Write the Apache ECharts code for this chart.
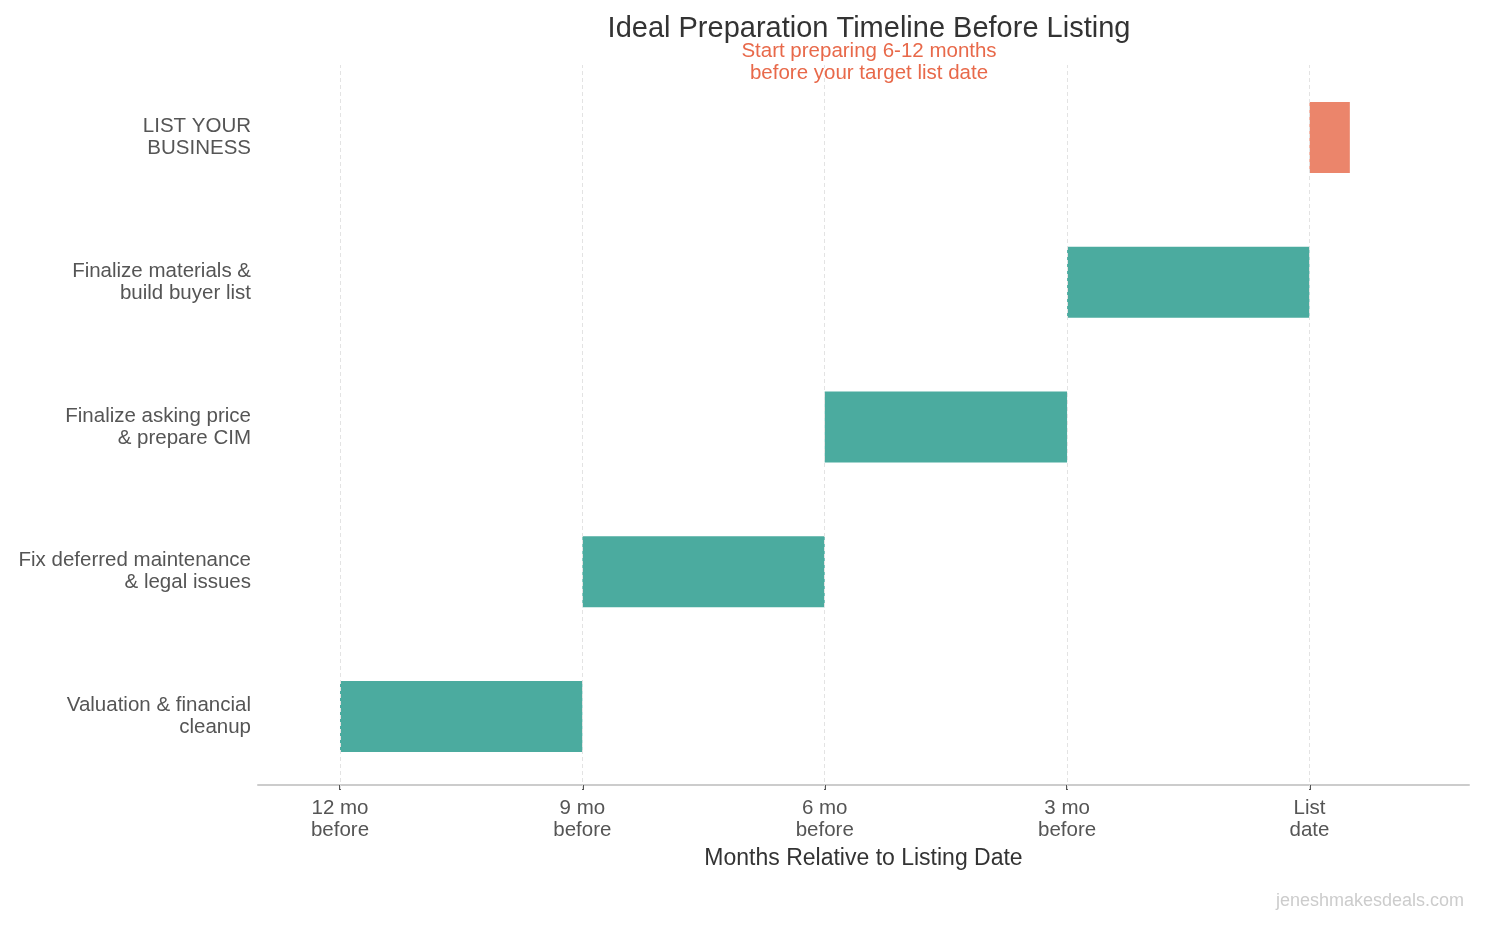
<!DOCTYPE html>
<html>
<head>
<meta charset="utf-8">
<script src="https://cdn.jsdelivr.net/npm/echarts@6/dist/echarts.min.js"></script>
<style>html,body{margin:0;padding:0;background:#fff;}#chart{width:1485px;height:925px;}</style>
</head>
<body>
<div id="chart"></div>
<script>
const categories = [
  "Valuation & financial\ncleanup",
  "Fix deferred maintenance\n& legal issues",
  "Finalize asking price\n& prepare CIM",
  "Finalize materials &\nbuild buyer list",
  "LIST YOUR\nBUSINESS"
];
const startMonths = [-12, -9, -6, -3, 0];
const endMonths = [-9, -6, -3, 0, 0.5];
const highlight = [false, false, false, false, true];
const tickValues = [-12, -9, -6, -3, 0];
const tickLabels = ["12 mo\nbefore", "9 mo\nbefore", "6 mo\nbefore", "3 mo\nbefore", "List\ndate"];

const FONT = '"Liberation Sans", Arial, Helvetica, sans-serif';
const chart = echarts.init(document.getElementById('chart'));

const data = categories.map((c, i) => [startMonths[i], endMonths[i], i, highlight[i] ? 1 : 0]);

chart.setOption({
  animation: false,
  backgroundColor: '#ffffff',
  title: {
    text: 'Ideal Preparation Timeline Before Listing',
    subtext: 'Start preparing 6-12 months\nbefore your target list date',
    left: 864, textAlign: 'center', top: 9, itemGap: -3,
    textStyle: {fontFamily: FONT, fontSize: 29, fontWeight: 'normal', color: '#333333'},
    subtextStyle: {fontFamily: FONT, fontSize: 20.5, color: '#E8694A', lineHeight: 22}
  },
  grid: {left: 258, right: 16, top: 65, bottom: 136, containLabel: false},
  xAxis: {
    type: 'value', min: -13.015, max: 1.975, offset: -4,
    name: 'Months Relative to Listing Date', nameLocation: 'middle', nameGap: 62,
    nameTextStyle: {fontFamily: FONT, fontSize: 23, color: '#333333'},
    axisLine: {show: true, lineStyle: {color: '#cccccc', width: 2}},
    axisTick: {show: true, customValues: tickValues, length: 5, lineStyle: {color: '#555555', width: 2}},
    axisLabel: {
      customValues: tickValues, margin: 12,
      fontFamily: FONT, fontSize: 20.5, color: '#555555', lineHeight: 22,
      formatter: v => { const i = tickValues.indexOf(v); return i >= 0 ? tickLabels[i] : ''; }
    },
    splitLine: {show: false}
  },
  yAxis: {
    type: 'category', data: categories,
    axisLine: {show: false}, axisTick: {show: false},
    axisLabel: {fontFamily: FONT, fontSize: 20.5, color: '#555555', lineHeight: 22, margin: 7, align: 'right', padding: [9, 0, 0, 0]}
  },
  graphic: [{
    type: 'text', right: 21, top: 892,
    style: {text: 'jeneshmakesdeals.com', font: '18px ' + FONT, fill: '#cccccc'}
  }],
  series: [{
    type: 'line',
    data: [],
    silent: true,
    markLine: {
      silent: true, symbol: 'none', label: {show: false},
      lineStyle: {color: '#e3e3e3', type: [4, 3], width: 1},
      data: tickValues.map(v => ({xAxis: v}))
    },
    z: 1
  }, {
    type: 'custom',
    data: data,
    encode: {x: [0, 1], y: 2},
    renderItem: function (params, api) {
      const s = api.coord([api.value(0), api.value(2)]);
      const e = api.coord([api.value(1), api.value(2)]);
      const h = api.size([0, 1])[1] * 0.49;
      return {
        type: 'rect',
        shape: {x: s[0], y: s[1] - h / 2, width: e[0] - s[0], height: h},
        style: {fill: api.value(3) ? '#EB856B' : '#4BAB9F'}
      };
    },
    z: 2
  }]
});
</script>
</body>
</html>
